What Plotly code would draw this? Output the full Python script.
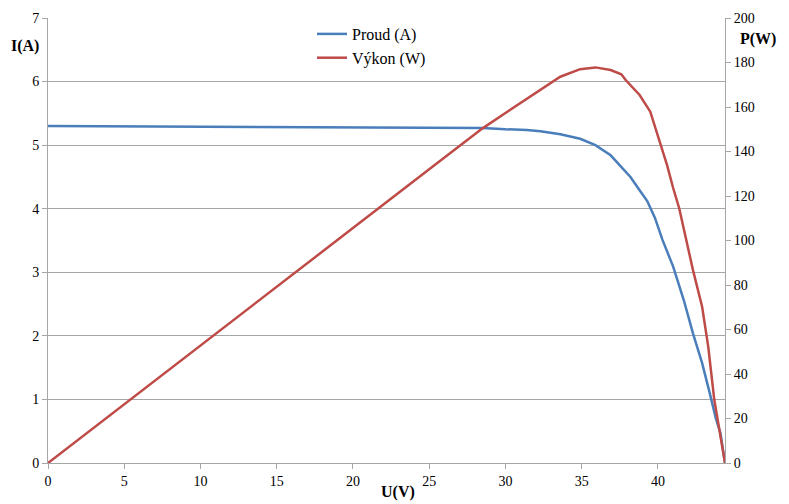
import plotly.graph_objects as go

# Data
u_current = [0, 5, 10, 15, 20, 25, 28.5, 30, 31.4, 32.3, 33.6, 34.9, 35.9, 36.9, 37.5, 38.2, 38.8,
             39.3, 39.8, 40.3, 41.0, 41.7, 42.3, 42.9, 43.4, 43.8, 44.1, 44.4]
current = [5.30, 5.295, 5.29, 5.29, 5.28, 5.28, 5.27, 5.25, 5.24, 5.22, 5.17, 5.10, 5.00, 4.84, 4.69, 4.50, 4.29,
           4.12, 3.86, 3.51, 3.09, 2.56, 2.04, 1.57, 1.10, 0.70, 0.47, 0.0]

u_power = [0, 5, 10, 15, 20, 25, 28.5, 30, 32.3, 33.6, 34.9, 35.9, 36.9, 37.6, 37.9, 38.8, 39.5,
           40.1, 40.6, 41.0, 41.4, 42.3, 42.9, 43.3, 43.7, 44.4]
power = [0, 26.5, 52.9, 79.3, 105.6, 132.0, 150.4, 157.3, 167.6, 173.6, 177.0, 177.8, 176.6, 174.7, 172.0, 165.4, 157.9,
         144.4, 133.9, 123.6, 114.4, 86.7, 70.2, 52.3, 28.3, 0.0]

x_ticks = [0, 5, 10, 15, 20, 25, 30, 35, 40]
left_ticks = [0, 1, 2, 3, 4, 5, 6, 7]
right_ticks = [0, 20, 40, 60, 80, 100, 120, 140, 160, 180, 200]

FONT = "Liberation Serif"
GRID = "#A6A6A6"
OFF = 8  # page body margin offset

fig = go.Figure()
fig.add_trace(go.Scatter(x=u_current, y=current, mode="lines", name="Proud (A)",
                         line=dict(color="#4A7EBB", width=2.5), yaxis="y"))
fig.add_trace(go.Scatter(x=u_power, y=power, mode="lines", name="Výkon (W)",
                         line=dict(color="#BE4B48", width=2.5), yaxis="y2"))

L, R, T, B = 48 - OFF, 725 - OFF, 18 - OFF, 463 - OFF
W, H = 789, 504

def px2paper(px, py):
    return (px - OFF - L) / (R - L), (B - (py - OFF)) / (B - T)

ann = []
for txt, px, py in [("<b>I(A)</b>", 25, 46), ("<b>P(W)</b>", 758, 39), ("<b>U(V)</b>", 398, 492)]:
    ax, ay = px2paper(px, py)
    ann.append(dict(text=txt, x=ax, y=ay, xref="paper", yref="paper", showarrow=False,
                    xanchor="center", yanchor="middle", font=dict(family=FONT, size=16)))

lx, ly = px2paper(312, 17)

fig.update_layout(
    width=W, height=H,
    margin=dict(l=L, r=W - R, t=T, b=H - B, autoexpand=False),
    paper_bgcolor="white", plot_bgcolor="white",
    font=dict(family=FONT, size=14, color="black"),
    showlegend=True,
    legend=dict(x=lx, y=ly, xanchor="left", yanchor="top",
                bgcolor="rgba(0,0,0,0)", font=dict(family=FONT, size=16),
                tracegroupgap=0, itemwidth=30),
    xaxis=dict(range=[0, 44.4], tickvals=x_ticks, showgrid=False, zeroline=False,
               showline=True, linecolor=GRID, linewidth=1,
               ticks="outside", ticklen=5, tickcolor=GRID,
               tickfont=dict(family=FONT, size=14)),
    yaxis=dict(range=[0, 7], tickvals=left_ticks, showgrid=True, gridcolor=GRID,
               gridwidth=1, zeroline=False, showline=True, linecolor=GRID,
               ticks="outside", ticklen=5, tickcolor=GRID,
               tickfont=dict(family=FONT, size=14)),
    yaxis2=dict(range=[0, 200], tickvals=right_ticks, overlaying="y", side="right",
                showgrid=False, zeroline=False, showline=True, linecolor=GRID,
                ticks="outside", ticklen=5, tickcolor=GRID,
                tickfont=dict(family=FONT, size=14)),
    annotations=ann,
)

fig.write_html("out.html")
